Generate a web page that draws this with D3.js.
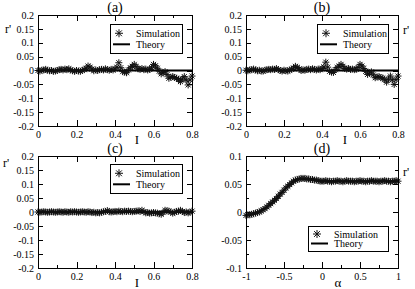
<!DOCTYPE html>
<html lang="en">
  <head>
    <meta charset="UTF-8" />
    <title>r' vs I and alpha</title>
    <style>
      body { margin: 0; background: #fff; }
      svg { display: block; font-family: "Liberation Serif", "DejaVu Serif", serif; }
      .tick line { stroke: #000; }
      .frame { fill: none; stroke: #000; stroke-width: 1px; }
      .star { fill: none; stroke: #111; stroke-width: 1px; }
      .theory { fill: none; stroke: #000; stroke-width: 2px; }
      .legend-box { fill: #fff; stroke: #000; stroke-width: 1px; }
    </style>
  </head>

  <body>
    <script src="https://cdn.jsdelivr.net/npm/d3@7"></script>
    <script>
      /* global d3 */

      // sample positions for panels (a)-(c)
      const iValues = [
        0, 0.01, 0.02, 0.03, 0.04, 0.05, 0.06, 0.07, 0.08, 0.09,
        0.1, 0.11, 0.12, 0.13, 0.14, 0.15, 0.16, 0.17, 0.18, 0.19,
        0.2, 0.21, 0.22, 0.23, 0.24, 0.25, 0.26, 0.27, 0.28, 0.29,
        0.3, 0.31, 0.32, 0.33, 0.34, 0.35, 0.36, 0.37, 0.38, 0.39,
        0.4, 0.41, 0.42, 0.43, 0.44, 0.45, 0.46, 0.47, 0.48, 0.49,
        0.5, 0.51, 0.52, 0.53, 0.54, 0.55, 0.56, 0.57, 0.58, 0.59,
        0.6, 0.61, 0.62, 0.63, 0.64, 0.65, 0.66, 0.67, 0.68, 0.69,
        0.7, 0.71, 0.72, 0.73, 0.74, 0.75, 0.76, 0.77, 0.78, 0.79,
        0.8
      ];

      const simA = [
        0, -0.002, 0.001, 0.002, 0.004, 0.001, -0.001, 0, -0.003, -0.002,
        0, 0.003, 0.004, 0.002, 0.005, 0.003, 0.006, 0.002, -0.001, -0.003,
        0, -0.002, -0.003, 0.001, 0.003, 0.008, 0.016, 0.012, 0.005, -0.001,
        0.002, 0, 0.003, 0.004, 0.002, 0.006, 0.003, 0.001, 0.004, 0.002,
        0.006, 0.012, 0.028, 0.01, -0.004, -0.006, -0.008, 0.002, 0.01, 0.015,
        0.022, 0.014, 0.006, 0.004, 0.007, 0.003, 0.005, 0.002, 0.004, 0.01,
        0.022, 0.017, 0.008, -0.002, -0.012, -0.008, -0.004, -0.015, -0.028, -0.024,
        -0.022, -0.025, -0.028, -0.032, -0.04, -0.03, -0.022, -0.035, -0.052, -0.034,
        -0.02
      ];

      const simB = [
        0.001, -0.001, 0.002, 0.003, 0.005, 0.002, -0.001, 0.001, -0.002, -0.002,
        0.001, 0.003, 0.004, 0.003, 0.005, 0.004, 0.007, 0.003, 0, -0.002,
        0.001, -0.001, -0.002, 0.002, 0.004, 0.009, 0.015, 0.011, 0.006, 0,
        0.002, 0.001, 0.004, 0.005, 0.003, 0.006, 0.004, 0.002, 0.005, 0.003,
        0.007, 0.013, 0.03, 0.012, -0.003, -0.006, -0.007, 0.003, 0.011, 0.016,
        0.022, 0.015, 0.007, 0.005, 0.007, 0.004, 0.005, 0.003, 0.004, 0.011,
        0.022, 0.016, 0.007, -0.003, -0.014, -0.009, -0.005, -0.016, -0.026, -0.023,
        -0.022, -0.026, -0.027, -0.033, -0.042, -0.031, -0.02, -0.034, -0.05, -0.033,
        -0.02
      ];

      const simC = [
        0, -0.001, 0, 0.001, 0, -0.001, 0, 0.001, 0, -0.001,
        0, 0.001, 0, -0.001, 0.001, 0, -0.001, 0.001, 0, 0.001,
        0, -0.001, 0, 0.001, 0, -0.001, 0.001, 0, -0.002, -0.001,
        -0.003, -0.002, -0.003, -0.001, 0.001, 0.002, 0.005, 0.001, 0, 0.001,
        0.002, 0.001, 0.003, 0.002, 0.001, 0.003, 0.002, 0.003, 0.002, 0.001,
        0.002, 0.003, 0.004, 0.002, 0.006, 0.001, -0.003, -0.002, -0.004, -0.003,
        -0.002, -0.003, -0.004, -0.006, -0.008, -0.002, 0.006, 0.004, 0.003, 0,
        -0.004, -0.001, 0.002, 0.003, 0.006, 0.002, -0.002, 0, -0.003, -0.001,
        0.003
      ];

      // theory for (a)-(c) is r' = 0 across the range
      const theoryI = [0, 0.8];
      const theoryABC = [0, 0];

      // panel (d)
      const alphaValues = [
        -1, -0.975, -0.95, -0.925, -0.9, -0.875, -0.85, -0.825, -0.8, -0.775,
        -0.75, -0.725, -0.7, -0.675, -0.65, -0.625, -0.6, -0.575, -0.55, -0.525,
        -0.5, -0.475, -0.45, -0.425, -0.4, -0.375, -0.35, -0.325, -0.3, -0.275,
        -0.25, -0.225, -0.2, -0.175, -0.15, -0.125, -0.1, -0.075, -0.05, -0.025,
        0, 0.025, 0.05, 0.075, 0.1, 0.125, 0.15, 0.175, 0.2, 0.225,
        0.25, 0.275, 0.3, 0.325, 0.35, 0.375, 0.4, 0.425, 0.45, 0.475,
        0.5, 0.525, 0.55, 0.575, 0.6, 0.625, 0.65, 0.675, 0.7, 0.725,
        0.75, 0.775, 0.8, 0.825, 0.85, 0.875, 0.9, 0.925, 0.95, 0.975,
        1
      ];

      const simD = [
        -0.006, -0.005, -0.005, -0.004, -0.003, -0.002, -0.001, 0, 0.002, 0.004,
        0.006, 0.009, 0.012, 0.015, 0.018, 0.021, 0.024, 0.028, 0.032, 0.035,
        0.039, 0.043, 0.046, 0.049, 0.052, 0.055, 0.057, 0.058, 0.059, 0.06,
        0.06, 0.06, 0.059, 0.059, 0.058, 0.058, 0.057, 0.057, 0.056, 0.055,
        0.055, 0.055, 0.056, 0.055, 0.055, 0.054, 0.055, 0.055, 0.056, 0.055,
        0.055, 0.054, 0.055, 0.056, 0.055, 0.055, 0.055, 0.054, 0.055, 0.055,
        0.056, 0.055, 0.055, 0.054, 0.055, 0.055, 0.056, 0.055, 0.055, 0.055,
        0.054, 0.055, 0.055, 0.056, 0.055, 0.055, 0.054, 0.055, 0.055, 0.056,
        0.055
      ];

      const theoryAlpha = [-1, -0.9, -0.8, -0.7, -0.6, -0.5, -0.4, -0.3, -0.2, -0.1, 0, 0.2, 0.4, 0.6, 0.8, 1];
      const theoryD = [-0.006, -0.003, 0.002, 0.012, 0.024, 0.039, 0.052, 0.059, 0.059, 0.057, 0.055, 0.055, 0.055, 0.055, 0.055, 0.055];

      // ticks
      const ticksI = [0, 0.2, 0.4, 0.6, 0.8];
      const minorI = [0.1, 0.3, 0.5, 0.7];
      const ticksR = [0.2, 0.15, 0.1, 0.05, 0, -0.05, -0.1, -0.15, -0.2];
      const ticksAlpha = [-1, -0.5, 0, 0.5, 1];
      const minorAlpha = [-0.75, -0.25, 0.25, 0.75];
      const ticksRD = [0.1, 0.05, 0, -0.05, -0.1];
      const minorRD = [0.075, 0.025, -0.025, -0.075];

      const legendLabels = ["Simulation", "Theory"];

      const width = 415,
        height = 289;

      const serif = "Liberation Serif, DejaVu Serif, serif";

      const svg = d3
        .select("body")
        .append("svg")
        .attr("width", width)
        .attr("height", height);

      const fmt = d => String(+d.toFixed(3));

      const panels = [
        {
          title: "(a)", x0: 38, x1: 192, y0: 15, y1: 126,
          xDomain: [0, 0.8], yDomain: [-0.2, 0.2],
          xTicks: ticksI, xMinor: minorI, yTicks: ticksR, yMinor: [],
          sx: iValues, sy: simA, tx: theoryI, ty: theoryABC,
          xLabel: "I", xLabelPos: [137, 144], rPos: [8, 33],
          legend: [110, 24, 72, 29]
        },
        {
          title: "(b)", x0: 246, x1: 398, y0: 15, y1: 126,
          xDomain: [0, 0.8], yDomain: [-0.2, 0.2],
          xTicks: ticksI, xMinor: minorI, yTicks: ticksR, yMinor: [],
          sx: iValues, sy: simB, tx: theoryI, ty: theoryABC,
          xLabel: "I", xLabelPos: [345, 144], rPos: [406, 34],
          legend: [317, 24, 71, 29]
        },
        {
          title: "(c)", x0: 38, x1: 192, y0: 156, y1: 268,
          xDomain: [0, 0.8], yDomain: [-0.2, 0.2],
          xTicks: ticksI, xMinor: minorI, yTicks: ticksR, yMinor: [],
          sx: iValues, sy: simC, tx: theoryI, ty: theoryABC,
          xLabel: "I", xLabelPos: [137, 287], rPos: [6, 167],
          legend: [110, 164, 72, 29]
        },
        {
          title: "(d)", x0: 246, x1: 398, y0: 156, y1: 268,
          xDomain: [-1, 1], yDomain: [-0.1, 0.1],
          xTicks: ticksAlpha, xMinor: minorAlpha, yTicks: ticksRD, yMinor: minorRD,
          sx: alphaValues, sy: simD, tx: theoryAlpha, ty: theoryD,
          xLabel: "α", xLabelPos: [338, 287], rPos: [406, 176],
          legend: [308, 226, 80, 25]
        }
      ];

      const starPath = r => {
        const d = r * 0.72;
        return `M${-r},0H${r}M0,${-r}V${r}M${-d},${-d}L${d},${d}M${-d},${d}L${d},${-d}`;
      };

      panels.forEach(p => {
        const x = d3.scaleLinear().domain(p.xDomain).range([p.x0, p.x1]);
        const y = d3.scaleLinear().domain(p.yDomain).range([p.y1, p.y0]);
        const g = svg.append("g");

        // axes: major ticks with labels, minor ticks, mirrored ticks on top/right
        const addAxis = (axis, tx, ty) => {
          const a = g
            .append("g")
            .attr("transform", `translate(${tx},${ty})`)
            .attr("shape-rendering", "crispEdges")
            .call(axis)
            .attr("font-family", serif)
            .attr("font-size", 10);
          a.select(".domain").remove();
          return a;
        };

        addAxis(d3.axisBottom(x).tickValues(p.xTicks).tickSize(-6).tickPadding(5).tickFormat(fmt), 0, p.y1);
        addAxis(d3.axisBottom(x).tickValues(p.xMinor).tickSize(-3).tickFormat(""), 0, p.y1);
        addAxis(d3.axisTop(x).tickValues(p.xTicks).tickSize(-6).tickFormat(""), 0, p.y0);
        addAxis(d3.axisTop(x).tickValues(p.xMinor).tickSize(-3).tickFormat(""), 0, p.y0);

        addAxis(d3.axisLeft(y).tickValues(p.yTicks).tickSize(-5).tickPadding(4).tickFormat(fmt), p.x0, 0);
        addAxis(d3.axisLeft(y).tickValues(p.yMinor).tickSize(-3).tickFormat(""), p.x0, 0);
        addAxis(d3.axisRight(y).tickValues(p.yTicks).tickSize(-5).tickFormat(""), p.x1, 0);
        addAxis(d3.axisRight(y).tickValues(p.yMinor).tickSize(-3).tickFormat(""), p.x1, 0);

        g.selectAll(".tick text").attr("fill", "#000");

        // theory line below stars
        const line = d3
          .line()
          .x(d => x(d[0]))
          .y(d => y(d[1]))
          .curve(d3.curveMonotoneX);
        g.append("path")
          .attr("class", "theory")
          .attr("d", line(d3.zip(p.tx, p.ty)));

        g.append("g")
          .selectAll("path")
          .data(d3.zip(p.sx, p.sy))
          .join("path")
          .attr("class", "star")
          .attr("transform", d => `translate(${x(d[0])},${y(d[1])})`)
          .attr("d", starPath(3.5));

        g.append("rect")
          .attr("class", "frame")
          .attr("shape-rendering", "crispEdges")
          .attr("x", p.x0)
          .attr("y", p.y0)
          .attr("width", p.x1 - p.x0)
          .attr("height", p.y1 - p.y0);

        // titles and axis labels
        g.append("text")
          .attr("x", (p.x0 + p.x1) / 2)
          .attr("y", p.y0 - 3)
          .attr("text-anchor", "middle")
          .attr("font-size", 14)
          .text(p.title);

        g.append("text")
          .attr("x", p.xLabelPos[0])
          .attr("y", p.xLabelPos[1])
          .attr("text-anchor", "middle")
          .attr("font-size", 13)
          .text(p.xLabel);

        g.append("text")
          .attr("x", p.rPos[0])
          .attr("y", p.rPos[1])
          .attr("text-anchor", "middle")
          .attr("font-size", 12)
          .text("r'");

        // legend
        const [lx, ly, lw, lh] = p.legend;
        const lg = g.append("g");
        lg.append("rect")
          .attr("class", "legend-box")
          .attr("shape-rendering", "crispEdges")
          .attr("x", lx)
          .attr("y", ly)
          .attr("width", lw)
          .attr("height", lh);
        const row1 = ly + lh * 0.32,
          row2 = ly + lh * 0.7;
        lg.append("path")
          .attr("class", "star")
          .attr("transform", `translate(${lx + 9},${row1})`)
          .attr("d", starPath(4));
        lg.append("line")
          .attr("class", "theory")
          .attr("x1", lx + 3)
          .attr("x2", lx + 20)
          .attr("y1", row2)
          .attr("y2", row2);
        lg.selectAll("text")
          .data(legendLabels)
          .join("text")
          .attr("x", lx + 26)
          .attr("y", (d, i) => (i === 0 ? row1 : row2))
          .attr("dy", "0.35em")
          .attr("font-size", 10)
          .text(d => d);
      });
    </script>
  </body>
</html>
